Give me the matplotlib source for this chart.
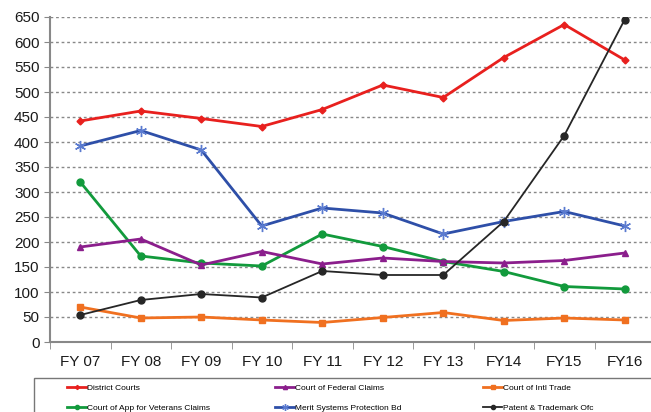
import matplotlib.pyplot as plt
import matplotlib.patches as mpatches
import numpy as np

plt.rcParams['font.family'] = ['Liberation Sans', 'DejaVu Sans']

years = ["FY 07", "FY 08", "FY 09", "FY 10", "FY 11", "FY 12", "FY 13", "FY14", "FY15", "FY16"]
district = [442, 462, 447, 431, 465, 514, 489, 569, 635, 564]
fed_claims = [190, 206, 154, 181, 156, 168, 161, 158, 163, 178]
intl_trade = [70, 48, 50, 44, 39, 49, 59, 43, 48, 44]
veterans = [320, 172, 158, 152, 216, 191, 161, 141, 111, 106]
merit = [392, 423, 384, 232, 268, 258, 216, 241, 261, 232]
patent = [54, 84, 96, 89, 142, 134, 134, 241, 413, 645]

x = np.arange(len(years))

fig = plt.figure(figsize=(6.51, 4.12), dpi=100)
ax = fig.add_axes([50 / 651, 1 - 342 / 412, 605 / 651, 325 / 412])

l_dc, = ax.plot(x, district, color="#e8201e", marker="D", ms=3.5, lw=2, label="District Courts")
l_vet, = ax.plot(x, veterans, color="#129a3c", marker="o", ms=5, lw=2, label="Court of App for Veterans Claims")
l_fed, = ax.plot(x, fed_claims, color="#8b1e8c", marker="^", ms=5, lw=2, label="Court of Federal Claims")
l_msp, = ax.plot(x, merit, color="#2e4fa8", marker=(6, 2, 0), ms=8, mew=1, mec="#5b7bd0",
                 lw=2, label="Merit Systems Protection Bd")
l_cit, = ax.plot(x, intl_trade, color="#f07020", marker="s", ms=5, lw=2, label="Court of Intl Trade")
l_pto, = ax.plot(x, patent, color="#262626", marker="o", ms=5, lw=1.3, label="Patent & Trademark Ofc")

ax.set_xlim(-0.5, 9.5)
ax.set_ylim(0, 650)
ax.set_yticks(range(0, 651, 50))
ax.set_xticks(x)
ax.set_xticklabels(years)
ax.set_xticks(np.arange(-0.5, 10, 1), minor=True)
ax.tick_params(axis="x", which="major", length=0, pad=9)
ax.tick_params(axis="x", which="minor", length=5, color="#888888")
ax.tick_params(axis="y", length=4, color="#888888")
ax.tick_params(labelsize=11, labelcolor="#1a1a1a")
ax.grid(axis="y", linestyle=(0, (2, 2)), color="#888888", lw=1)
ax.set_axisbelow(True)
for s in ["top", "right"]:
    ax.spines[s].set_visible(False)
for s in ["left", "bottom"]:
    ax.spines[s].set_color("#888888")
    ax.spines[s].set_linewidth(1.5)

# legend box
frame = mpatches.Rectangle((34 / 651, -0.05), 1.0, 0.05 + 1 - 378 / 412,
                           transform=fig.transFigure, fill=False,
                           edgecolor="#777777", lw=1.0)
fig.patches.append(frame)

top = 1 - 381 / 412
for xpos, hs in [(64, [l_dc, l_vet]), (272, [l_fed, l_msp]), (480, [l_cit, l_pto])]:
    fig.legend(handles=hs, loc="upper left", bbox_to_anchor=(xpos / 651, top),
               fontsize=6, frameon=False, handlelength=2.2, handletextpad=0.2,
               markerscale=0.6, borderaxespad=0, labelspacing=1.4)

fig.savefig("out.png", dpi=100)
